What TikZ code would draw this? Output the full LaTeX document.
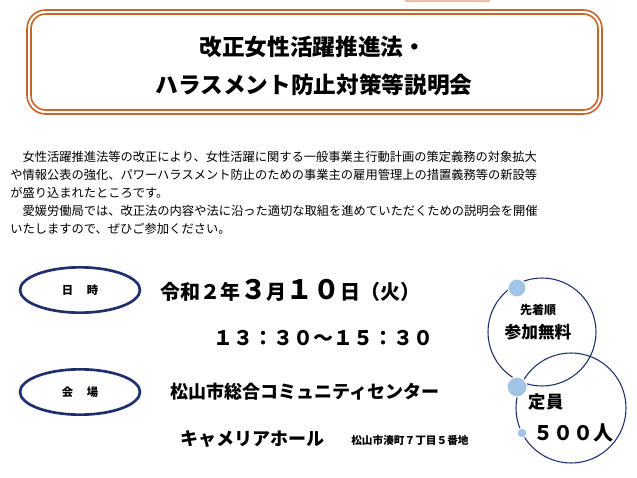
\documentclass[tikz,border=0pt]{standalone}
\usepackage{fontspec}
\usetikzlibrary{shapes.geometric}
\setmainfont{Noto Sans CJK JP}
\def\jpb{\bfseries}
\begin{document}
\begin{tikzpicture}[x=0.75pt,y=-0.75pt,
  ov/.style={draw=navy,line width=1.6pt,ellipse,minimum width=90,minimum height=34},
  bl/.style={fill=lblue,draw=white,line width=0.8pt},
  t/.style={inner sep=0,anchor=west}]
\definecolor{navy}{RGB}{31,46,110}
\definecolor{org}{RGB}{200,100,40}
\definecolor{lblue}{RGB}{160,195,230}
\useasboundingbox (0,0) rectangle (637,478);
\fill[org!40] (405,-5) rectangle (490,2);
\draw[org,line width=1.2pt,rounded corners=14] (27,10) rectangle (602,114);
\draw[org,line width=1.2pt,rounded corners=11] (31,14) rectangle (598,110);
\node[t,anchor=center] (ti1) at (313,47) {\jpb\fontsize{17}{17}\selectfont 改正女性活躍推進法・};
\node[t,anchor=center] (ti2) at (314,85) {\jpb\fontsize{17}{17}\selectfont ハラスメント防止対策等説明会};
\begin{scope}[every node/.style={t,font=\fontsize{9.2}{9.2}\selectfont}]
\node (p1) at (10,157) {\hspace{1em}女性活躍推進法等の改正により、女性活躍に関する一般事業主行動計画の策定義務の対象拡大};
\node (p2) at (10,175) {や情報公表の強化、パワーハラスメント防止のための事業主の雇用管理上の措置義務等の新設等};
\node (p3) at (10,193) {が盛り込まれたところです。};
\node (p4) at (10,211) {\hspace{1em}愛媛労働局では、改正法の内容や法に沿った適切な取組を進めていただくための説明会を開催};
\node (p5) at (10,229) {いたしますので、ぜひご参加ください。};
\end{scope}
\node[ov,line width=2pt] (e1) at (80,290) {};
\node[font=\jpb\fontsize{8.5}{8.5}\selectfont] (e1t) at (e1) {日\hspace{1.2em}時};
\node[ov,line width=2pt] (e2) at (80,392) {};
\node[font=\jpb\fontsize{8.5}{8.5}\selectfont] (e2t) at (e2) {会\hspace{1.2em}場};
\node[t] (date) at (160,290) {\jpb\fontsize{15}{15}\selectfont 令和２年{\fontsize{20}{20}\selectfont ３}月{\fontsize{20}{20}\selectfont １０}日（火）};
\node[t] (time) at (213,338) {\jpb\fontsize{15}{15}\selectfont １３：３０～１５：３０};
\node[t] (pl1) at (170,392) {\jpb\fontsize{13.5}{13.5}\selectfont 松山市総合コミュニティセンター};
\node[t] (pl2) at (180,439) {\jpb\fontsize{13.5}{13.5}\selectfont キャメリアホール};
\node[t] (pl3) at (351,440) {\jpb\fontsize{8}{8}\selectfont 松山市湊町７丁目５番地};
\draw[navy,line width=0.8pt] (542,332) circle (54);
\draw[navy,line width=0.8pt] (571,408) circle (55);
\fill[bl] (517,288) circle (9);
\fill[bl] (517,387) circle (10);
\fill[bl] (522,433) circle (5);
\node[font=\jpb\fontsize{9}{9}\selectfont] (c1) at (538,310) {先着順};
\node[font=\jpb\fontsize{12.5}{12.5}\selectfont] (c2) at (538,332) {参加無料};
\node[font=\jpb\fontsize{13}{13}\selectfont] (c3) at (546,402) {定員};
\node[font=\jpb\fontsize{15}{15}\selectfont] (c4) at (573,433) {５００人};
\end{tikzpicture}
\end{document}
